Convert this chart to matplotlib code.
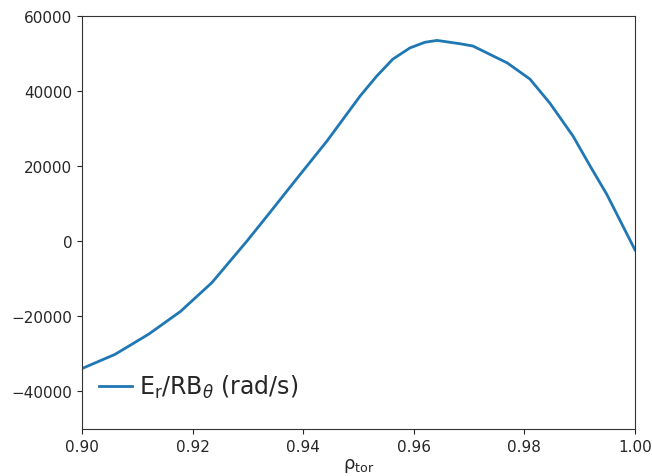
import numpy as np
import matplotlib.pyplot as plt

rho = [0.9000, 0.9060, 0.9121, 0.9178, 0.9235, 0.9298, 0.9340, 0.9382, 0.9443,
       0.9503, 0.9533, 0.9562, 0.9593, 0.9620, 0.9642, 0.9684, 0.9707, 0.9769,
       0.9810, 0.9846, 0.9888, 0.9919, 0.9949, 1.0000]
omega = [-33900, -30100, -24700, -18700, -11000, 0, 7700, 15500, 26700,
         38700, 44000, 48500, 51500, 53000, 53500, 52600, 52000, 47500,
         43200, 36800, 28000, 20000, 12500, -2300]

txt = '#262626'
fig = plt.figure(figsize=(6.52, 4.77), dpi=100)
ax = fig.add_axes([82/652, 1-430/477, 553/652, 413/477])
ax.plot(rho, omega, color='#1f77b4', lw=2, solid_joinstyle='round',
        label=r'E$_\mathrm{r}$/RB$_\theta$ (rad/s)')
ax.set_xlim(0.90, 1.00)
ax.set_ylim(-50000, 60000)
ax.set_xticks([0.90, 0.92, 0.94, 0.96, 0.98, 1.00])
ax.set_yticks([-40000, -20000, 0, 20000, 40000, 60000])
ax.tick_params(labelsize=11, colors=txt)
for s in ax.spines.values():
    s.set_color('#333333')
ax.set_xlabel(r'ρ$_\mathrm{tor}$', fontsize=13, color=txt, labelpad=2)
leg = ax.legend(loc='lower left', fontsize=17, frameon=False, handlelength=1.4,
                handletextpad=0.3, borderaxespad=0.3, bbox_to_anchor=(0, 0.03))
for t in leg.get_texts():
    t.set_color(txt)
fig.savefig('out.png', dpi=100)
